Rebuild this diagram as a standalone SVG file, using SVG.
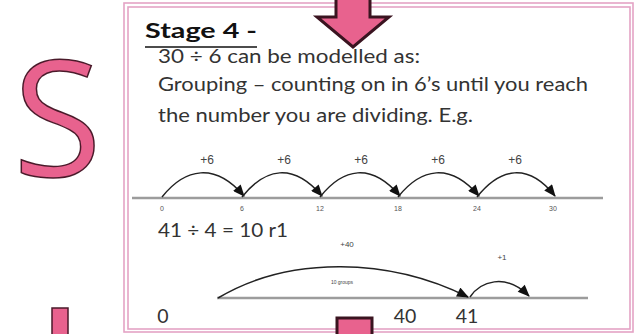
<svg xmlns="http://www.w3.org/2000/svg" width="637" height="334" viewBox="0 0 637 334">
<defs>
<style>
.frame{fill:none;stroke:#e4a3c5;stroke-width:1.6}
.body{font-family:Lato,"Open Sans","Liberation Sans",sans-serif;font-size:19.5px;fill:#333}
.tick{font-family:"Liberation Sans",Arial,sans-serif;font-size:7px;fill:#555;text-anchor:middle}
.jump{font-family:"Liberation Sans",Arial,sans-serif;font-size:12px;fill:#444;text-anchor:middle}
.nl{stroke:#9c9c9c;stroke-width:2.6}
.arc{fill:none;stroke:#222;stroke-width:1.5;marker-end:url(#ah)}
.big{fill:#e8628e;stroke:#3a1420;stroke-width:3}
</style>
<marker id="ah" viewBox="0 0 12 10" refX="11" refY="5" markerWidth="13" markerHeight="10" markerUnits="userSpaceOnUse" orient="auto">
<path d="M0,0 L12,5 L0,10 Z" fill="#111"/>
</marker>
</defs>
<rect width="637" height="334" fill="#fff"/>
<g id="frame">
<rect class="frame" x="124" y="3" width="509" height="329"/>
<rect class="frame" x="128" y="7" width="502" height="322"/>
</g>
<g id="letter-s">
<text x="13" y="176" font-family="'Open Sans','Noto Sans',sans-serif" font-size="162" fill="#e8628e" stroke="#4a1a2a" stroke-width="1.5">S</text>
</g>
<g id="letter-fragment">
<rect x="52" y="308" width="16" height="30" fill="#e8628e" stroke="#4a1a2a" stroke-width="1.5"/>
</g>
<g id="arrow-top">
<path class="big" d="M336,-5 L370,-5 L370,17 L389,17 L353,47 L317,17 L336,17 Z"/>
</g>
<g id="arrow-bottom">
<path class="big" d="M337,318 L372,318 L372,340 L337,340 Z"/>
</g>
<g id="heading">
<text x="145" y="38" font-family="Lato,'Open Sans',sans-serif" font-weight="bold" font-size="20" fill="#111" textLength="112" lengthAdjust="spacingAndGlyphs">Stage 4 -</text>
<line x1="145" y1="47" x2="257" y2="47" stroke="#111" stroke-width="1.6"/>
</g>
<g id="text">
<text class="body" x="158" y="63" textLength="262" lengthAdjust="spacingAndGlyphs">30 ÷ 6 can be modelled as:</text>
<text class="body" x="158" y="91" textLength="430" lengthAdjust="spacingAndGlyphs">Grouping – counting on in 6’s until you reach</text>
<text class="body" x="158" y="122" textLength="315" lengthAdjust="spacingAndGlyphs">the number you are dividing. E.g.</text>
<text class="body" x="158" y="237" textLength="130" lengthAdjust="spacingAndGlyphs">41 ÷ 4 = 10 r1</text>
</g>
<g id="numberline-1">
<line class="nl" x1="132" y1="198" x2="603" y2="198"/>
<text class="tick" x="162" y="211">0</text>
<text class="tick" x="242" y="211">6</text>
<text class="tick" x="320" y="211">12</text>
<text class="tick" x="398" y="211">18</text>
<text class="tick" x="477" y="211">24</text>
<text class="tick" x="553" y="211">30</text>
<text class="jump" x="207" y="164">+6</text>
<text class="jump" x="284" y="164">+6</text>
<text class="jump" x="361" y="164">+6</text>
<text class="jump" x="438" y="164">+6</text>
<text class="jump" x="515" y="164">+6</text>
</g>
<g id="numberline-2">
<line class="nl" x1="217" y1="298" x2="588" y2="298"/>
<text class="body" x="163" y="323" text-anchor="middle">0</text>
<text class="body" x="405" y="323" text-anchor="middle">40</text>
<text class="body" x="467" y="323" text-anchor="middle">41</text>
<text x="347" y="247" font-family="'Liberation Sans',Arial,sans-serif" font-size="8" fill="#444" text-anchor="middle">+40</text>
<text x="502" y="260" font-family="'Liberation Sans',Arial,sans-serif" font-size="8" fill="#444" text-anchor="middle">+1</text>
<text x="342" y="284" font-family="'Liberation Sans',Arial,sans-serif" font-size="5" fill="#444" text-anchor="middle">10 groups</text>
</g>
<g id="connectors">
<path class="arc" d="M162,197 C185,168 215,162 244,196"/>
<path class="arc" d="M242,197 C265,168 293,162 322,196"/>
<path class="arc" d="M320,197 C343,168 371,162 400,196"/>
<path class="arc" d="M398,197 C421,168 450,162 479,196"/>
<path class="arc" d="M477,197 C500,168 528,162 555,196"/>
<path class="arc" d="M218,298 C290,255 390,258 468,297"/>
<path class="arc" d="M470,297 C480,282 505,272 529,296"/>
</g>
</svg>
